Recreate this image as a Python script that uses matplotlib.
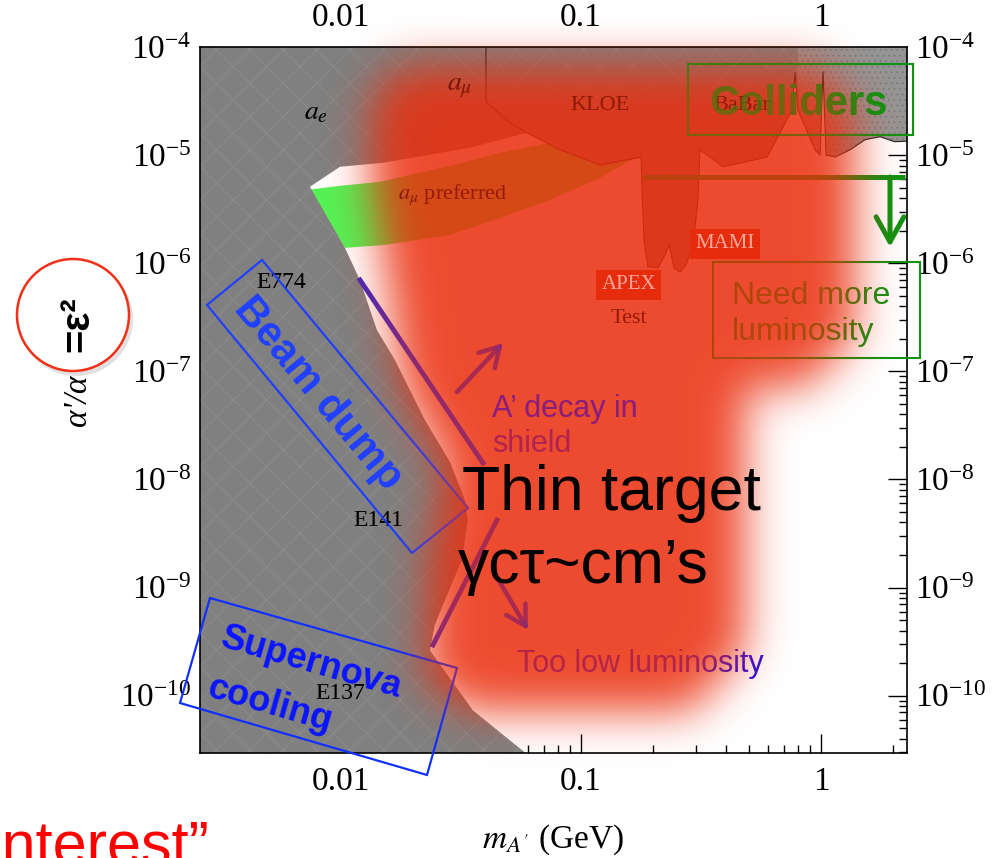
import numpy as np
import matplotlib.pyplot as plt
from matplotlib.path import Path
from matplotlib.patches import Polygon, Rectangle, Circle
from matplotlib.ticker import FixedLocator, LogLocator, FuncFormatter, NullFormatter

plt.rcParams['font.family'] = ['Liberation Serif', 'DejaVu Serif']
plt.rcParams['mathtext.fontset'] = 'stix'
plt.rcParams['hatch.linewidth'] = 0.6

SANS = ['Liberation Sans', 'DejaVu Sans']

# ---------------- dark photon parameter space (mass in GeV, alpha'/alpha) ----------------
mass_range = (0.00259, 2.28)
eps2_range = (2.95e-11, 1e-4)
x_ticks = [0.01, 0.1, 1]

# lower edge of the g-2 / KLOE / APEX / MAMI / BaBar exclusions, right to left
env_mass = [3.0, 2.03, 1.76, 1.525, 1.32, 1.144, 1.049, 1.019, 0.99, 0.944, 0.80,
            0.78, 0.757, 0.596, 0.391, 0.313, 0.307, 0.293, 0.274, 0.2585, 0.244,
            0.233, 0.224, 0.2094, 0.190, 0.183, 0.1796, 0.178, 0.120, 0.0818,
            0.0596, 0.046, 0.0345, 0.01496, 0.00991, 0.00743]
env_eps2 = [1.387e-5, 1.33e-5, 1.48e-5, 1.39e-5, 1.12e-5, 9.6e-6, 1.0e-5, 5.9e-5,
            1.0e-5, 1.12e-5, 2.62e-5, 5.78e-5, 2.62e-5, 9.6e-6, 7.8e-6, 1.12e-5,
            3.86e-6, 1.476e-6, 9.64e-7, 8.3e-7, 9.0e-7, 1.476e-6, 1.19e-6, 9.05e-7,
            9.25e-7, 1.64e-6, 4.78e-6, 9.6e-6, 8.1e-6, 1.12e-5, 1.607e-5, 1.387e-5,
            1.17e-5, 8.49e-6, 7.8e-6, 5.09e-6]

# beam dump envelope (E774 / E141 / E137), top to bottom
dump_mass = [0.0104, 0.0120, 0.01413, 0.0168, 0.0224, 0.0285, 0.0329, 0.0338,
             0.0319, 0.0271, 0.0246, 0.0235, 0.0355, 0.059]
dump_eps2 = [1.387e-6, 7.0e-7, 2.41e-7, 1.27e-7, 3.54e-8, 1.445e-8, 6.43e-9, 4.2e-9,
             1.79e-9, 7.6e-10, 4.48e-10, 2.62e-10, 7.3e-11, 2.93e-11]

# a_mu preferred band
band_top_mass = [0.00729, 0.00991, 0.01454, 0.0285, 0.046, 0.0743, 0.120, 0.194]
band_top_eps2 = [4.78e-6, 5.2e-6, 5.66e-6, 7.96e-6, 1.05e-5, 1.3e-5, 1.445e-5, 1.51e-5]
band_low_mass = [0.176, 0.120, 0.0743, 0.046, 0.0285, 0.01525, 0.0104]
band_low_eps2 = [1.0e-5, 6.17e-6, 3.86e-6, 2.62e-6, 1.83e-6, 1.476e-6, 1.387e-6]

# a_mu exclusion boundary line
amu_mass = [0.0402, 0.0402, 0.0506, 0.0596, 0.0818, 0.120, 0.178]
amu_eps2 = [1e-4, 3.12e-5, 2.0e-5, 1.607e-5, 1.12e-5, 8.1e-6, 9.6e-6]

# experiment labels
lab_text = ['$a_e$', r'$a_\mu$', 'KLOE', 'BaBar', r'$a_\mu$ preferred', 'Test',
            'E774', 'E141', 'E137']
lab_mass = [0.00787, 0.0313, 0.120, 0.469, 0.0293, 0.158, 0.00562, 0.01426, 0.0099]
lab_eps2 = [2.47e-5, 4.2e-5, 2.86e-5, 2.86e-5, 4.28e-6, 3.11e-7, 6.7e-7, 4.2e-9, 1.05e-10]
lab_size = [20, 20, 16, 16, 16, 16, 17, 17, 17]
tag_text = ['MAMI', 'APEX']
tag_mass = [0.398, 0.158]
tag_eps2 = [1.51e-6, 6.3e-7]

fig = plt.figure(figsize=(10, 8.58), dpi=100)
ax = fig.add_axes([0.2, 105 / 858, 0.707, 706 / 858])
ax.set_xscale('log')
ax.set_yscale('log')

# gray excluded region
ex_x = [0.001, 3.0] + env_mass + dump_mass + [0.065, 0.001]
ex_y = [1e-3, 1e-3] + env_eps2 + dump_eps2 + [1e-11, 1e-11]
ax.fill(band_top_mass + band_low_mass, band_top_eps2 + band_low_eps2,
        color='#55f255', lw=0, zorder=1)
ax.fill(ex_x, ex_y, color='#808080', lw=0, zorder=2)
ax.fill(ex_x, ex_y, facecolor='none', edgecolor='#c8c8c8', hatch='/\\', lw=0,
        alpha=0.18, zorder=2.1)
# lighter BaBar patch
bb_x = [0.80, 3.0] + env_mass[:11]
bb_y = [1e-3, 1e-3] + env_eps2[:11]
ax.fill(bb_x, bb_y, facecolor='#959595', edgecolor='#7c7c7c', hatch='...', lw=0,
        zorder=2.2)

ax.plot(env_mass[:29], env_eps2[:29], color='#202020', lw=0.8, zorder=3)
ax.plot(amu_mass, amu_eps2, color='#202020', lw=0.8, zorder=3)

for s, m, e, fs in zip(lab_text, lab_mass, lab_eps2, lab_size):
    ax.text(m, e, s, fontsize=fs, ha='center', va='center', zorder=4)
for s, m, e in zip(tag_text, tag_mass, tag_eps2):
    ax.text(m, e, s, fontsize=15, color='white', ha='center', va='center', zorder=4,
            bbox=dict(boxstyle='square,pad=0.25', fc='#d0281a', ec='none'))

ax.set_xlim(*mass_range)
ax.set_ylim(*eps2_range)
ax.xaxis.set_major_locator(FixedLocator(x_ticks))
ax.xaxis.set_major_formatter(FuncFormatter(lambda v, p: f'{v:g}'))
ax.xaxis.set_minor_locator(LogLocator(base=10, subs=np.arange(2, 10), numticks=20))
ax.xaxis.set_minor_formatter(NullFormatter())
ax.yaxis.set_major_locator(LogLocator(base=10, numticks=20))
ax.yaxis.set_minor_locator(LogLocator(base=10, subs=np.arange(2, 10), numticks=20))
ax.yaxis.set_minor_formatter(NullFormatter())
ax.tick_params(which='both', direction='in', top=True, right=True,
               labeltop=True, labelright=True, labelsize=24, width=1.0)
ax.tick_params(which='major', length=14)
ax.tick_params(which='minor', length=6)
ax.tick_params(axis='x', which='major', pad=10)
ax.tick_params(axis='y', which='major', pad=6)
for sp in ax.spines.values():
    sp.set_linewidth(1.2)

ax.set_xlabel(r"$m_{A'}$ (GeV)", fontsize=24)
ax.xaxis.set_label_coords(0.5, -0.099)
ax.set_ylabel("\u03b1'/\u03b1", fontsize=24, fontstyle='italic')
ax.yaxis.set_label_coords(-0.151, 0.5)

# ---------------- slide overlay, figure pixel coordinates ----------------
W, H = 1000, 858
ov = fig.add_axes([0, 0, 1, 1], zorder=5)
ov.axis('off')
ov.patch.set_visible(False)


def blur(a, sigma):
    k = np.arange(-3 * sigma, 3 * sigma + 1)
    g = np.exp(-k ** 2 / (2.0 * sigma ** 2))
    g /= g.sum()
    a = np.apply_along_axis(lambda r: np.convolve(r, g, mode='same'), 1, a)
    a = np.apply_along_axis(lambda c: np.convolve(c, g, mode='same'), 0, a)
    return a


# red wash outline with cut corners, softened by the blur
blob = [(400, 66), (815, 66), (855, 110), (855, 335), (805, 388), (745, 388),
        (745, 650), (690, 712), (470, 712), (424, 680), (428, 560), (445, 470),
        (400, 385), (390, 300), (370, 180), (370, 100)]
yy, xx = np.mgrid[0:H, 0:W] + 0.5
inside = Path(blob).contains_points(np.column_stack([xx.ravel(), yy.ravel()]))
mask = blur(inside.reshape(H, W).astype(float), 22)
rgba = np.zeros((H, W, 4))
rgba[..., 0], rgba[..., 1], rgba[..., 2] = 235 / 255, 45 / 255, 12 / 255
rgba[..., 3] = 0.86 * np.clip(mask, 0, 1)
ov.imshow(rgba, extent=(0, W, H, 0), zorder=3, interpolation='bilinear')
ov.set_aspect('auto')
ov.set_xlim(0, W)
ov.set_ylim(H, 0)

# labels that show through the red wash a little
for s, m, e, fs in zip(lab_text, lab_mass, lab_eps2, lab_size):
    ov.text(m, e, s, fontsize=fs, ha='center', va='center', zorder=4, alpha=0.25,
            transform=ax.transData)
for s, m, e in zip(tag_text, tag_mass, tag_eps2):
    ov.text(m, e, s, fontsize=15, color='white', ha='center', va='center', zorder=4,
            alpha=0.5, transform=ax.transData)


def layered(fn, t):
    # drawn once under the red wash and once over it with alpha t
    fn(2, 1.0)
    if t > 0:
        fn(4, t)


GREEN = '#129212'
BLUE = '#2040ff'
PURPLE = '#4a28b8'

layered(lambda z, a: ov.add_patch(Rectangle((688, 64), 225, 71, fill=False, ec=GREEN,
                                            lw=1.5, zorder=z, alpha=a)), 0.45)
layered(lambda z, a: ov.text(798, 115, 'Colliders', family=SANS, weight='bold',
                             fontsize=30, color=GREEN, ha='center', va='baseline',
                             zorder=z, alpha=a), 0.45)
layered(lambda z, a: ov.plot([643, 905], [177, 177], color=GREEN, lw=3.6,
                             solid_capstyle='butt', zorder=z, alpha=a), 0.07)
layered(lambda z, a: ov.annotate('', xy=(890, 247), xytext=(890, 177), zorder=z,
                                 arrowprops=dict(arrowstyle='->,head_length=0.9,head_width=0.5',
                                                 mutation_scale=20, color=GREEN, lw=3.6,
                                                 alpha=a, shrinkA=0, shrinkB=0)), 0.07)
layered(lambda z, a: ov.add_patch(Rectangle((713, 262), 207, 96, fill=False, ec=GREEN,
                                            lw=1.5, zorder=z, alpha=a)), 0.15)
layered(lambda z, a: ov.text(732, 304, 'Need more', family=SANS, fontsize=23,
                             color=GREEN, va='baseline', zorder=z, alpha=a), 0.15)
layered(lambda z, a: ov.text(732, 340, 'luminosity', family=SANS, fontsize=23,
                             color=GREEN, va='baseline', zorder=z, alpha=a), 0.15)

# beam dump and supernova boxes
layered(lambda z, a: ov.add_patch(Polygon([(262, 260), (468, 508), (412, 553), (207, 305)],
                                          closed=True, fill=False, ec=BLUE, lw=1.5,
                                          zorder=z, alpha=a)), 0.3)
ov.text(318, 394, 'Beam dump', family=SANS, weight='bold', fontsize=30, color=BLUE,
        rotation=-50, rotation_mode='anchor', ha='center', va='center', zorder=2)
layered(lambda z, a: ov.add_patch(Polygon([(210, 598), (457, 668), (427, 775), (180, 703)],
                                          closed=True, fill=False, ec='#1030ff', lw=1.5,
                                          zorder=z, alpha=a)), 0.3)
ov.text(311, 663, 'Supernova', family=SANS, weight='bold', fontsize=26, color='#0a14ff',
        rotation=-16, rotation_mode='anchor', ha='center', va='center', zorder=2)
ov.text(270, 705, 'cooling', family=SANS, weight='bold', fontsize=26, color='#0a14ff',
        rotation=-16, rotation_mode='anchor', ha='center', va='center', zorder=2)

# shield decay line and arrows
layered(lambda z, a: ov.plot([360, 483], [280, 463], color=PURPLE, lw=3.4,
                             zorder=z, alpha=a), 0.4)
layered(lambda z, a: ov.plot([433, 497], [645, 520], color=PURPLE, lw=3.4,
                             zorder=z, alpha=a), 0.3)
for tail, head in (((457, 392), (503, 343)), ((495, 574), (528, 630))):
    layered(lambda z, a, tail=tail, head=head: ov.annotate(
        '', xy=head, xytext=tail, zorder=z,
        arrowprops=dict(arrowstyle='->,head_length=0.7,head_width=0.4', mutation_scale=20,
                        color=PURPLE, lw=3.2, alpha=a, shrinkA=0, shrinkB=0)), 0.3)

layered(lambda z, a: ov.text(492, 417, 'A\u2019 decay in', family=SANS, fontsize=22,
                             color='#6a1aa8', va='baseline', zorder=z, alpha=a), 0.7)
layered(lambda z, a: ov.text(492, 452, 'shield', family=SANS, fontsize=22,
                             color='#6a1aa8', va='baseline', zorder=z, alpha=a), 0.35)
layered(lambda z, a: ov.text(517, 672, 'Too low luminosity', family=SANS, fontsize=22,
                             color='#2a10e0', va='baseline', zorder=z, alpha=a), 0.15)

ov.text(462, 510, 'Thin target', family=SANS, fontsize=45, color='black',
        va='baseline', zorder=5)
ov.text(458, 583, '\u03b3c\u03c4~cm\u2019s', family=SANS, fontsize=45, color='black',
        va='baseline', zorder=5)

# circled coupling on the y label
ov.add_patch(Circle((76, 319), 57, fc='#000000', ec='none', alpha=0.12, zorder=6))
ov.add_patch(Circle((73, 315), 56, fc='white', ec='#f03018', lw=1.8, zorder=6))
ov.text(77, 324, '=\u03b5\u00b2', family=SANS, weight='bold', fontsize=29, rotation=90,
        ha='center', va='center', zorder=7)

ov.text(210, 864, 'interest\u201d', family=SANS, fontsize=44, color='#ff0000',
        ha='right', va='baseline', zorder=7)

fig.savefig('out.png', dpi=100)
